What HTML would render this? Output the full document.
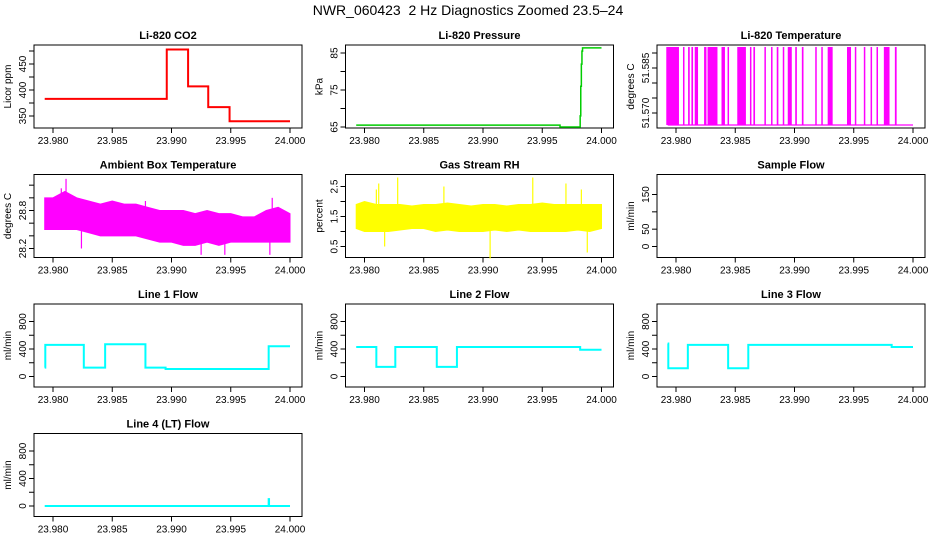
<!DOCTYPE html>
<html><head><meta charset="utf-8">
<style>
body{margin:0;background:#fff;}
svg{display:block;font-family:"Liberation Sans",sans-serif;}
.tt{font-size:11px;font-weight:bold;text-anchor:middle;}
.tk{font-size:10px;text-anchor:middle;}
</style></head>
<body>
<svg id="c" width="936" height="540" viewBox="0 0 936 540">
<rect width="936" height="540" fill="#fff"/>
<text x="468" y="15" font-size="14" text-anchor="middle">NWR_060423&#160; 2 Hz Diagnostics Zoomed 23.5–24</text>
</svg>
<script>
// ---- data ----
const xTicks = [23.980, 23.985, 23.990, 23.995, 24.000];
const xTickLabels = ["23.980","23.985","23.990","23.995","24.000"];
const co2Times = [23.9793, 23.9896, 23.9914, 23.9931, 23.9949, 24.0000];
const co2Levels = [383, 478, 407, 367, 340];
const presTimes = [23.9793, 23.9965, 23.9982, 23.99825, 23.9983, 23.99835, 23.9984, 24.0000];
const presLevels = [65.5, 65.0, 68, 76, 82, 85.5, 86.4];
const tempHigh = [[23.97918,23.98025],[23.98059,23.98059],[23.98102,23.98116],[23.9813,23.98144],[23.98158,23.98186],[23.98237,23.98257],[23.98266,23.9835],[23.98384,23.98413],[23.98435,23.98446],[23.98517,23.9859],[23.98624,23.98633],[23.98653,23.98667],[23.98746,23.98746],[23.98802,23.98814],[23.9885,23.98864],[23.98901,23.98901],[23.98943,23.98977],[23.99006,23.9902],[23.99062,23.99076],[23.99175,23.99175],[23.99226,23.99237],[23.9928,23.99322],[23.99443,23.99477],[23.99509,23.99509],[23.99585,23.99585],[23.99642,23.9965],[23.99692,23.99692],[23.99754,23.99802],[23.99847,23.99862]];
const tempLow = 51.566, tempHighVal = 51.592, tempEnd = 24.0;
const bandTimes = [23.9793,23.980,23.981,23.982,23.983,23.984,23.985,23.986,23.987,23.988,23.989,23.990,23.991,23.992,23.993,23.994,23.995,23.996,23.997,23.998,23.999,24.000];
const ambHi = [29.0,29.0,29.1,29.0,28.95,28.9,28.95,28.9,28.9,28.85,28.8,28.8,28.8,28.75,28.8,28.75,28.75,28.7,28.7,28.8,28.85,28.75];
const ambLo = [28.5,28.5,28.5,28.5,28.45,28.4,28.4,28.4,28.4,28.35,28.3,28.3,28.25,28.25,28.3,28.25,28.3,28.3,28.3,28.3,28.3,28.3];
const ambSpikeT = [23.9811,23.9807,23.9824,23.9878,23.9925,23.9945,23.9983,23.9985];
const ambSpikeV = [29.3,29.15,28.2,28.95,28.1,28.1,28.1,29.0];
const rhHi = [1.9,2.0,1.9,1.9,1.9,1.85,1.9,1.9,1.95,1.9,1.85,1.9,1.9,1.85,1.9,1.9,1.95,1.9,1.9,1.9,1.9,1.9];
const rhLo = [1.1,1.0,1.0,1.0,1.05,1.1,1.1,1.0,1.05,1.0,1.0,1.0,1.05,1.0,1.05,1.0,1.0,1.0,1.0,1.05,1.0,1.1];
const rhSpikeT = [23.9812,23.9828,23.9817,23.9810,23.9867,23.9906,23.9942,23.9970,23.9988,23.9983];
const rhSpikeV = [2.6,2.8,0.5,2.4,2.5,0.1,2.8,2.6,0.3,2.4];
const l1Times = [23.9793,23.97935,23.9826,23.9844,23.9878,23.9895,23.9982,24.0];
const l1Levels = [130,460,130,470,130,110,440];
const l2Times = [23.9793,23.981,23.9826,23.9861,23.9878,23.9982,24.0];
const l2Levels = [430,140,430,140,430,390];
const l3Times = [23.9793,23.97935,23.981,23.9844,23.9861,23.9982,24.0];
const l3Levels = [480,120,460,120,460,430];
const l4Times = [23.9793,23.9982,23.99823,24.0];
const l4Levels = [0,100,0];

const NS = "http://www.w3.org/2000/svg";
const svg = document.getElementById('c');
function mk(tag, attrs, parent){const e=document.createElementNS(NS,tag);for(const k in attrs)e.setAttribute(k,attrs[k]);(parent||svg).appendChild(e);return e;}

function panel(name,title,col,row,yLab,y0,yp0,y1,yp1,yTicks,yLabels){
  const L = 34 + col*311.5, T = 45 + row*129.5, W = 268, H = 83;
  const g = mk('g',{});
  
  
  const x = t => L + 19 + (t-23.98)/0.02*237;
  const y = v => T + yp0 + (v-y0)/(y1-y0)*(yp1-yp0);
  const tt = mk('text',{x:L+W/2,y:T-6,class:'tt'},g); tt.textContent=title;
  
  
  const box = mk('rect',{x:L,y:T,width:W,height:H,fill:'none',stroke:'#000','stroke-width':1},g);
  
  
  const xa = mk('g',{},g);
  
  
  mk('line',{x1:x(xTicks[0]),x2:x(xTicks[xTicks.length-1]),y1:T+H,y2:T+H,stroke:'#000'},xa);
  xTicks.forEach((t,i)=>{
    mk('line',{x1:x(t),x2:x(t),y1:T+H,y2:T+H+5,stroke:'#000'},xa);
    const lb = mk('text',{x:x(t),y:T+H+16,class:'tk'},xa); lb.textContent=xTickLabels[i];
  });
  const ya = mk('g',{},g);
  
  
  mk('line',{x1:L,x2:L,y1:y(yTicks[0]),y2:y(yTicks[yTicks.length-1]),stroke:'#000'},ya);
  yTicks.forEach((v)=>{ mk('line',{x1:L-5,x2:L,y1:y(v),y2:y(v),stroke:'#000'},ya); });
  yLabels.forEach(v=>{
    const lb = mk('text',{x:0,y:0,class:'tk',transform:`translate(${L-8},${y(v)}) rotate(-90)`},ya);
    lb.textContent = String(v);
  });
  const yl = mk('text',{x:0,y:0,class:'tk',transform:`translate(${L-23},${T+H/2}) rotate(-90)`},g);
  yl.textContent=yLab;
  
  
  return {g,x,y};
}
function step(p,name,times,levels,color,w){
  let d = `M${p.x(times[0])},${p.y(levels[0])}`;
  for(let i=0;i<levels.length;i++){
    d += `L${p.x(times[i+1])},${p.y(levels[i])}`;
    if(i+1<levels.length) d += `L${p.x(times[i+1])},${p.y(levels[i+1])}`;
  }
  const e = mk('path',{d,fill:'none',stroke:color,'stroke-width':w},p.g);
  
  
}
function band(p,name,hi,lo,sT,sV,color){
  let d = '';
  bandTimes.forEach((t,i)=>{ d += (i?'L':'M')+p.x(t)+','+p.y(hi[i]); });
  for(let i=bandTimes.length-1;i>=0;i--) d += 'L'+p.x(bandTimes[i])+','+p.y(lo[i]);
  const e = mk('path',{d:d+'Z',fill:color,stroke:color,'stroke-width':1},p.g);
  
  
  sT.forEach((t,i)=>{
    const mid = (hi[0]+lo[0])/2;
    const s = mk('line',{x1:p.x(t),x2:p.x(t),y1:p.y(mid),y2:p.y(sV[i]),stroke:color,'stroke-width':1.2},p.g);
    
    
  });
}

let p = panel('co2','Li-820 CO2',0,0,'Licor ppm',350,71,450,19,[350,375,400,425,450,475],[350,400,450]);
step(p,'co2-line',co2Times,co2Levels,'#ff0000',2);
p = panel('pressure','Li-820 Pressure',1,0,'kPa',65,82,85,8,[65,70,75,80,85],[65,75,85]);
step(p,'pressure-line',presTimes,presLevels,'#00cc00',1.5);
p = panel('li820-temp','Li-820 Temperature',2,0,'degrees C',51.570,68,51.585,23,[51.570,51.575,51.580,51.585,51.590],['51.570','51.585']);
{
  const base = mk('line',{x1:p.x(23.9793),x2:p.x(tempEnd),y1:p.y(tempLow),y2:p.y(tempLow),stroke:'#ff00ff','stroke-width':1.2},p.g);
  
  
  tempHigh.forEach(iv=>{
    const x0 = p.x(iv[0]), x1 = Math.max(p.x(iv[1]), x0+1.5);
    const r = mk('rect',{x:x0,y:p.y(tempHighVal),width:x1-x0,height:p.y(tempLow)-p.y(tempHighVal),fill:'#ff00ff'},p.g);
    
    
  });
}
p = panel('ambient-temp','Ambient Box Temperature',0,1,'degrees C',28.2,74,28.8,36,[28.2,28.4,28.6,28.8,29.0,29.2],['28.2','28.8']);
band(p,'ambient-temp',ambHi,ambLo,ambSpikeT,ambSpikeV,'#ff00ff');
p = panel('rh','Gas Stream RH',1,1,'percent',0.5,72,2.5,12,[0.5,1.0,1.5,2.0,2.5],['0.5','1.5','2.5']);
band(p,'rh',rhHi,rhLo,rhSpikeT,rhSpikeV,'#ffff00');
p = panel('sample-flow','Sample Flow',2,1,'ml/min',0,72,150,20,[0,50,100,150],['0','50','150']);
const fT=[0,200,400,600,800], fL=['0','400','800'];
p = panel('line1-flow','Line 1 Flow',0,2,'ml/min',0,72.5,800,17.5,fT,fL);
step(p,'line1-flow-line',l1Times,l1Levels,'#00ffff',2);
p = panel('line2-flow','Line 2 Flow',1,2,'ml/min',0,72.5,800,17.5,fT,fL);
step(p,'line2-flow-line',l2Times,l2Levels,'#00ffff',2);
p = panel('line3-flow','Line 3 Flow',2,2,'ml/min',0,72.5,800,17.5,fT,fL);
step(p,'line3-flow-line',l3Times,l3Levels,'#00ffff',2);
p = panel('line4-flow','Line 4 (LT) Flow',0,3,'ml/min',0,72.5,800,17.5,fT,fL);
step(p,'line4-flow-line',l4Times,l4Levels,'#00ffff',2);
</script>
</body></html>
